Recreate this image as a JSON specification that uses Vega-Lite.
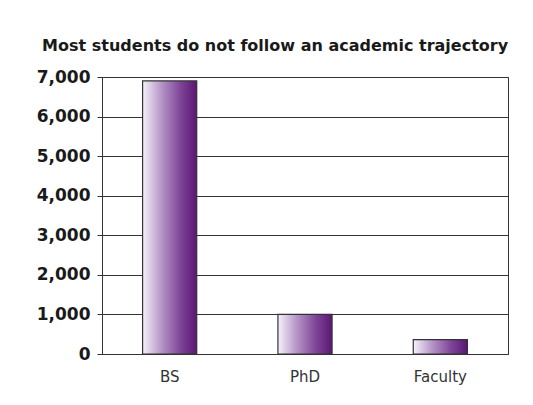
{
  "$schema": "https://vega.github.io/schema/vega-lite/v6.json",
  "width": 406,
  "height": 277,
  "autosize": {"type": "none"},
  "padding": {"left": 102, "top": 77, "right": 25, "bottom": 51},
  "background": "white",
  "title": {
    "text": "Most students do not follow an academic trajectory",
    "font": "DejaVu Sans",
    "fontSize": 16,
    "fontWeight": "bold",
    "color": "#1a1a1a",
    "anchor": "middle",
    "frame": "bounds",
    "offset": 14,
    "dx": 3
  },
  "data": {
    "values": [
      {"degree": "BS", "count": 6900},
      {"degree": "PhD", "count": 1000},
      {"degree": "Faculty", "count": 365}
    ]
  },
  "mark": {
    "type": "bar",
    "fill": {
      "gradient": "linear",
      "x1": 0, "y1": 0, "x2": 1, "y2": 0,
      "stops": [
        {"offset": 0, "color": "#f6f2fa"},
        {"offset": 0.35, "color": "#b594c6"},
        {"offset": 0.7, "color": "#7e4597"},
        {"offset": 1, "color": "#5b1675"}
      ]
    },
    "stroke": "#333333",
    "strokeWidth": 1.2
  },
  "encoding": {
    "x": {
      "field": "degree",
      "type": "nominal",
      "sort": ["BS", "PhD", "Faculty"],
      "title": null,
      "scale": {"paddingInner": 0.6, "paddingOuter": 0.3},
      "axis": {
        "labelAngle": 0,
        "ticks": false,
        "domainColor": "#333333",
        "labelFont": "DejaVu Sans",
        "labelFontSize": 15,
        "labelColor": "#333333",
        "labelPadding": 15
      }
    },
    "y": {
      "field": "count",
      "type": "quantitative",
      "title": null,
      "scale": {"domain": [0, 7000]},
      "axis": {
        "values": [0, 1000, 2000, 3000, 4000, 5000, 6000, 7000],
        "format": ",d",
        "grid": true,
        "gridColor": "#333333",
        "gridOpacity": 1,
        "tickColor": "#333333",
        "tickSize": 5,
        "domainColor": "#333333",
        "labelFont": "DejaVu Sans",
        "labelFontWeight": "bold",
        "labelFontSize": 17,
        "labelColor": "#1a1a1a",
        "labelPadding": 7
      }
    }
  },
  "config": {"view": {"stroke": "#333333", "strokeWidth": 1}}
}
